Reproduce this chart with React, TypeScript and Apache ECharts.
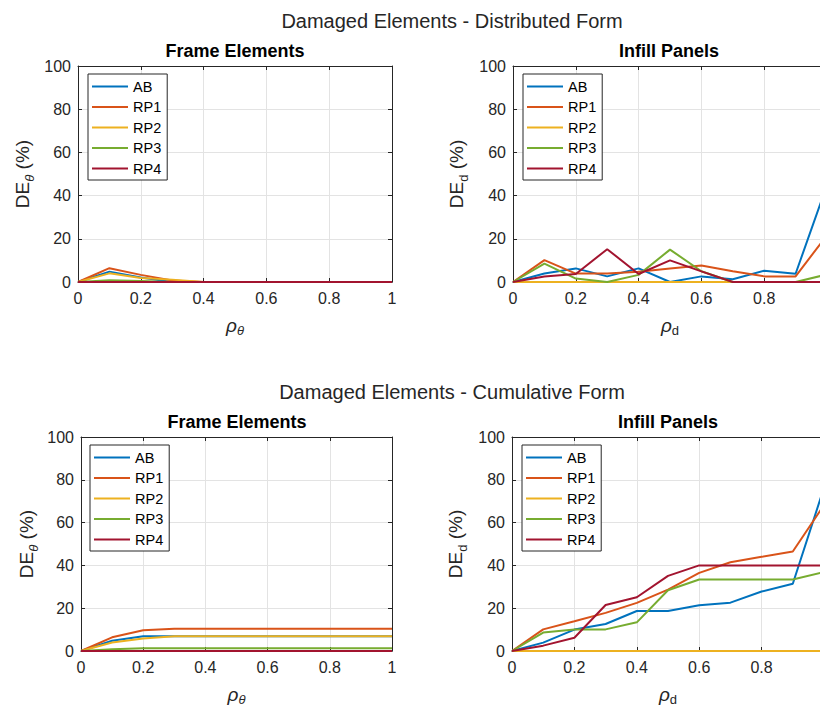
import React, { useEffect, useRef } from 'react';
import * as echarts from 'echarts';

// ---------- data ----------
const rho = [0, 0.1, 0.2, 0.3, 0.4, 0.5, 0.6, 0.7, 0.8, 0.9, 1.0];
const seriesNames = ['AB', 'RP1', 'RP2', 'RP3', 'RP4'];
const xTicks = [0, 0.2, 0.4, 0.6, 0.8, 1];
const yTicks = [0, 20, 40, 60, 80, 100];

// Distributed form – frame elements
const frameDistAB = [0, 4.8, 2.1, 0, 0, 0, 0, 0, 0, 0, 0];
const frameDistRP1 = [0, 6.4, 3.3, 0.7, 0, 0, 0, 0, 0, 0, 0];
const frameDistRP2 = [0, 4.0, 1.8, 1.1, 0, 0, 0, 0, 0, 0, 0];
const frameDistRP3 = [0, 0.8, 0.5, 0, 0, 0, 0, 0, 0, 0, 0];
const frameDistRP4 = [0, 0, 0, 0, 0, 0, 0, 0, 0, 0, 0];

// Distributed form – infill panels
const infillDistAB = [0, 3.9, 6.3, 2.6, 6.3, 0, 2.6, 1.3, 5.2, 3.8, 45.0];
const infillDistRP1 = [0, 10.1, 3.9, 3.9, 4.8, 6.2, 7.6, 5.0, 2.6, 2.6, 21.7];
const infillDistRP2 = [0, 0, 0, 0, 0, 0, 0, 0, 0, 0, 0];
const infillDistRP3 = [0, 8.5, 1.6, 0, 3.3, 15.0, 5.0, 0, 0, 0, 3.5];
const infillDistRP4 = [0, 2.5, 3.7, 15.2, 3.7, 10.0, 4.9, 0, 0, 0, 0];

// Cumulative form – frame elements
const frameCumAB = [0, 4.8, 6.9, 6.9, 6.9, 6.9, 6.9, 6.9, 6.9, 6.9, 6.9];
const frameCumRP1 = [0, 6.4, 9.7, 10.4, 10.4, 10.4, 10.4, 10.4, 10.4, 10.4, 10.4];
const frameCumRP2 = [0, 4.0, 5.8, 6.9, 6.9, 6.9, 6.9, 6.9, 6.9, 6.9, 6.9];
const frameCumRP3 = [0, 0.8, 1.3, 1.3, 1.3, 1.3, 1.3, 1.3, 1.3, 1.3, 1.3];
const frameCumRP4 = [0, 0, 0, 0, 0, 0, 0, 0, 0, 0, 0];

// Cumulative form – infill panels
const infillCumAB = [0, 3.9, 10.0, 12.6, 18.7, 18.7, 21.4, 22.6, 27.8, 31.4, 76.3];
const infillCumRP1 = [0, 10.1, 13.9, 17.8, 22.5, 28.7, 36.5, 41.5, 44.0, 46.5, 68.2];
const infillCumRP2 = [0, 0, 0, 0, 0, 0, 0, 0, 0, 0, 0];
const infillCumRP3 = [0, 8.6, 10.1, 10.1, 13.4, 28.4, 33.4, 33.4, 33.4, 33.4, 36.9];
const infillCumRP4 = [0, 2.5, 6.2, 21.5, 25.1, 35.1, 40.0, 40.0, 40.0, 40.0, 40.0];

// ---------- styling ----------
const colors = ['#0072BD', '#D95319', '#EDB120', '#77AC30', '#A2142F'];
const FONT = '"Liberation Sans", Arial, Helvetica, sans-serif';
const AX = '#262626';

const panels = [
  {
    data: [frameDistAB, frameDistRP1, frameDistRP2, frameDistRP3, frameDistRP4],
    grid: { left: 78, top: 66, width: 314, height: 216 },
    legend: [88, 74], showMax: true,
    title: 'Frame Elements', titlePos: [235, 51],
    xName: '{i|ρ}{si|θ}', yName: '{n|DE}{si|θ}{n| (%)}', yGap: 42,
  },
  {
    data: [infillDistAB, infillDistRP1, infillDistRP2, infillDistRP3, infillDistRP4],
    grid: { left: 513, top: 66, width: 314, height: 216 },
    legend: [523, 74], showMax: false,
    title: 'Infill Panels', titlePos: [669, 51],
    xName: '{i|ρ}{s|d}', yName: '{n|DE}{s|d}{n| (%)}', yGap: 43,
  },
  {
    data: [frameCumAB, frameCumRP1, frameCumRP2, frameCumRP3, frameCumRP4],
    grid: { left: 81, top: 437, width: 311, height: 214 },
    legend: [90, 445], showMax: true,
    title: 'Frame Elements', titlePos: [237, 422],
    xName: '{i|ρ}{si|θ}', yName: '{n|DE}{si|θ}{n| (%)}', yGap: 41,
  },
  {
    data: [infillCumAB, infillCumRP1, infillCumRP2, infillCumRP3, infillCumRP4],
    grid: { left: 512, top: 437, width: 312, height: 214 },
    legend: [522, 445], showMax: false,
    title: 'Infill Panels', titlePos: [668, 422],
    xName: '{i|ρ}{s|d}', yName: '{n|DE}{s|d}{n| (%)}', yGap: 43,
  },
];

const richY = {
  n: { fontSize: 19, fontFamily: FONT, color: AX, lineHeight: 28, verticalAlign: 'middle' },
  si: { fontSize: 13, fontFamily: FONT, fontStyle: 'italic', color: AX, lineHeight: 28, verticalAlign: 'bottom' },
  s: { fontSize: 13, fontFamily: FONT, color: AX, lineHeight: 28, verticalAlign: 'bottom' },
};
const richX = {
  i: { fontSize: 19, fontFamily: FONT, fontStyle: 'italic', color: AX, lineHeight: 24, verticalAlign: 'middle' },
  si: { fontSize: 13, fontFamily: FONT, fontStyle: 'italic', color: AX, lineHeight: 24, verticalAlign: 'bottom' },
  s: { fontSize: 13, fontFamily: FONT, color: AX, lineHeight: 24, verticalAlign: 'bottom' },
};

function buildOption() {
  const grid: any[] = [];
  const xAxis: any[] = [];
  const yAxis: any[] = [];
  const legend: any[] = [];
  const series: any[] = [];
  const graphic: any[] = [];

  const tickStyle = { show: true, inside: true, length: 4, lineStyle: { color: AX, width: 1 } };
  const lineStyle = { show: true, onZero: false, lineStyle: { color: AX, width: 1 } };
  const split = { show: true, lineStyle: { color: '#e3e3e3', width: 1 } };

  panels.forEach((p, pi) => {
    grid.push({ ...p.grid, containLabel: false, outerBoundsMode: 'none' });
    xAxis.push({
      type: 'value', gridIndex: pi, position: 'bottom', min: 0, max: 1, interval: xTicks[1] - xTicks[0],
      axisLine: lineStyle, axisTick: tickStyle, splitLine: split,
      axisLabel: { fontSize: 16, fontFamily: FONT, color: AX, margin: 8, showMaxLabel: p.showMax },
      name: p.xName, nameLocation: 'middle', nameGap: 31,
      nameTextStyle: { rich: richX },
    });
    xAxis.push({
      type: 'value', gridIndex: pi, position: 'top', min: 0, max: 1, interval: xTicks[1] - xTicks[0],
      axisLine: lineStyle, axisTick: tickStyle, splitLine: { show: false }, axisLabel: { show: false },
    });
    yAxis.push({
      type: 'value', gridIndex: pi, position: 'left', min: 0, max: 100, interval: yTicks[1] - yTicks[0],
      axisLine: lineStyle, axisTick: tickStyle, splitLine: split,
      axisLabel: { fontSize: 16, fontFamily: FONT, color: AX, margin: 7 },
      name: p.yName, nameLocation: 'middle', nameGap: p.yGap,
      nameTextStyle: { rich: richY },
    });
    yAxis.push({
      type: 'value', gridIndex: pi, position: 'right', min: 0, max: 100, interval: yTicks[1] - yTicks[0],
      axisLine: lineStyle, axisTick: tickStyle, splitLine: { show: false }, axisLabel: { show: false },
    });
    legend.push({
      left: p.legend[0], top: p.legend[1], orient: 'vertical', data: seriesNames,
      icon: 'rect',
      itemWidth: 36, itemHeight: 2, itemGap: 5.5, padding: [5, 6, 4, 4],
      backgroundColor: '#ffffff', borderColor: AX, borderWidth: 1, borderRadius: 0,
      selectedMode: false,
      textStyle: { fontSize: 14.5, fontFamily: FONT, color: '#000', lineHeight: 14 },
    });
    p.data.forEach((vals, k) => {
      series.push({
        type: 'line', name: seriesNames[k], xAxisIndex: pi * 2, yAxisIndex: pi * 2,
        data: rho.map((x, j) => [x, vals[j]]),
        symbol: 'none', showSymbol: false,
        lineStyle: { width: 2, color: colors[k] },
        itemStyle: { color: colors[k] },
        z: 3,
      });
    });
    graphic.push({
      type: 'text', x: p.titlePos[0], y: p.titlePos[1],
      style: { text: p.title, fontSize: 18, fontWeight: 'bold', fontFamily: FONT, fill: '#000', align: 'center', verticalAlign: 'middle' },
    });
  });

  graphic.push({
    type: 'text', x: 452, y: 21,
    style: { text: 'Damaged Elements - Distributed Form', fontSize: 20, fontFamily: FONT, fill: AX, align: 'center', verticalAlign: 'middle' },
  });
  graphic.push({
    type: 'text', x: 452, y: 392,
    style: { text: 'Damaged Elements - Cumulative Form', fontSize: 20, fontFamily: FONT, fill: AX, align: 'center', verticalAlign: 'middle' },
  });

  return {
    animation: false,
    backgroundColor: '#ffffff',
    color: colors,
    textStyle: { fontFamily: FONT },
    grid, xAxis, yAxis, legend, series, graphic,
  };
}

export default function App() {
  const ref = useRef<HTMLDivElement>(null);
  useEffect(() => {
    if (!ref.current) return;
    const chart = echarts.init(ref.current, undefined, { renderer: 'svg' });
    chart.setOption(buildOption() as any);
    return () => chart.dispose();
  }, []);
  return (
    <div
      ref={ref}
      style={{ position: 'fixed', left: 0, top: 0, width: 820, height: 706, background: '#fff' }}
    />
  );
}
